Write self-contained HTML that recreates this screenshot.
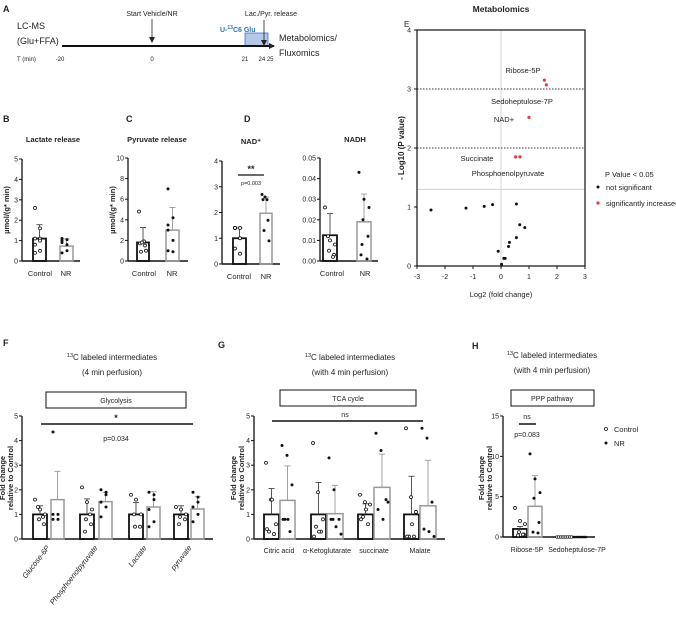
<!DOCTYPE html>
<html><head><meta charset="utf-8"><style>
body{margin:0;background:#fff}
svg{display:block;font-family:"Liberation Sans",Arial,sans-serif}
text{fill:#222}
</style></head><body>
<svg id="s" width="676" height="622" viewBox="0 0 676 622" xmlns="http://www.w3.org/2000/svg">
<defs><marker id="ah" markerUnits="userSpaceOnUse" markerWidth="6" markerHeight="6" refX="5" refY="3" orient="auto"><path d="M0,0 L6,3 L0,6 z" fill="#222"/></marker></defs>
<text x="3" y="12" font-size="9" font-weight="bold">A</text>
<text x="17" y="29" font-size="9">LC-MS</text>
<text x="17" y="44" font-size="9">(Glu+FFA)</text>
<rect x="245" y="33" width="23" height="13" fill="#b4c7e7" stroke="#4472c4" stroke-width="0.8"/>
<line x1="62" y1="46" x2="274" y2="46" stroke="#111" stroke-width="2" marker-end="url(#ah)"/>
<text x="152" y="16" font-size="7" text-anchor="middle" fill="#555">Start Vehicle/NR</text>
<line x1="152" y1="19" x2="152" y2="42" stroke="#222" stroke-width="0.8" marker-end="url(#ah)"/>
<text x="271" y="16" font-size="7" text-anchor="middle" fill="#555">Lac./Pyr. release</text>
<line x1="264" y1="20" x2="264" y2="45" stroke="#222" stroke-width="0.8" marker-end="url(#ah)"/>
<text x="220" y="32" font-size="7" font-weight="bold" style="fill:#2e75b6">U-<tspan font-size="5" dy="-3">13</tspan><tspan dy="3">C6 Glu</tspan></text>
<text x="279" y="41" font-size="9">Metabolomics/</text>
<text x="279" y="56" font-size="9">Fluxomics</text>
<g font-size="6">
<text x="17" y="61">T (min)</text><text x="60" y="61" text-anchor="middle">-20</text><text x="152" y="61" text-anchor="middle">0</text><text x="245" y="61" text-anchor="middle">21</text><text x="266" y="61" text-anchor="middle">24 25</text>
</g>
<g id="g"></g>
</svg>
<script>
const NS="http://www.w3.org/2000/svg",G=document.getElementById('g');
function el(t,a,txt){const e=document.createElementNS(NS,t);for(const k in a)e.setAttribute(k,a[k]);if(txt!==undefined)e.textContent=txt;G.appendChild(e);return e;}
function T(x,y,s,sz,o){o=o||{};el('text',Object.assign({x:x,y:y,'font-size':sz||7},o),s);}
function L(x1,y1,x2,y2,w,c,d){const a={x1,y1,x2,y2,stroke:c||'#111','stroke-width':w||1};if(d)a['stroke-dasharray']=d;el('line',a);}
function yaxis(x,y0,y1,ticks,labels,x2){L(x,y0,x,y1,1.3);L(x,y0,x2,y0,1.5);ticks.forEach((t,i)=>{const y=y0-(y0-y1)*i/(ticks.length-1);L(x-3,y,x,y,1);T(x-4,y+2.5,labels[i],7,{'text-anchor':'end'});});}
function bar(x,w,y0,sc,v,e,ctrl,dots){const top=y0-v*sc;el('rect',{x:x,y:top,width:w,height:v*sc,fill:'none',stroke:ctrl?'#111':'#999','stroke-width':ctrl?1.8:1.5});
 if(e){L(x+w/2,top,x+w/2,top-e*sc,0.9,ctrl?'#444':'#999');L(x+w/2-3,top-e*sc,x+w/2+3,top-e*sc,0.9,ctrl?'#444':'#999');}
 dots.forEach((d,i)=>{const cx=x+2+((i*5)%(w-3)),cy=y0-d*sc;if(ctrl)el('circle',{cx:cx,cy:cy,r:1.5,fill:'#fff',stroke:'#111','stroke-width':0.8});else el('circle',{cx:cx,cy:cy,r:1.5,fill:'#111'});});}
function ylab(x,y,s,sz){T(x,y,s,sz||7,{'text-anchor':'middle','font-weight':'bold',transform:`rotate(-90 ${x} ${y})`});}
T(3,122,'B',9,{'font-weight':'bold'});T(53,142,'Lactate release',7.5,{'text-anchor':'middle','font-weight':'bold'});
yaxis(22,261,159,[0,1,2,3,4,5],['0','1','2','3','4','5'],80);ylab(9,210,'µmol/(g* min)',7.5);
bar(33,13,261,20.4,1.1,0.68,true,[2.6,1.6,1.1,1.1,0.8,0.5,0.4,1.0]);bar(60,13,261,20.4,0.73,0.35,false,[1.1,1.05,0.9,0.5,0.4,0.8,1.0]);
T(40,276,'Control',7.5,{'text-anchor':'middle'});T(66,276,'NR',7.5,{'text-anchor':'middle'});
T(126,122,'C',9,{'font-weight':'bold'});T(157,142,'Pyruvate release',7.5,{'text-anchor':'middle','font-weight':'bold'});
yaxis(128,261,158,[0,2,4,6,8,10],['0','2','4','6','8','10'],188);ylab(115,210,'µmol/(g* min)',7.5);
bar(137,12,261,10.3,1.8,1.45,true,[4.8,1.9,1.7,1.5,0.9,1.0,1.8]);bar(166,13,261,10.3,3.0,2.2,false,[7.0,4.2,3.0,2.0,1.0,0.9,3.5]);
T(144,276,'Control',7.5,{'text-anchor':'middle'});T(172,276,'NR',7.5,{'text-anchor':'middle'});
T(244,122,'D',9,{'font-weight':'bold'});T(251,144,'NAD⁺',7.5,{'text-anchor':'middle','font-weight':'bold'});
yaxis(222,264,161,[0,1,2,3,4],['0','1','2','3','4'],280);
bar(233,13,264,25.75,1.0,0.4,true,[1.4,1.4,1.4,1.0,0.6,0.4,1.4,1.0]);bar(260,12,264,25.75,1.97,0.63,false,[2.7,2.5,2.5,1.7,1.3,0.9,2.6]);
L(238,175,264,175,1.3);T(251,172,'**',9,{'text-anchor':'middle','font-weight':'bold'});T(251,185,'p=0.003',5.5,{'text-anchor':'middle'});
T(239,279,'Control',7.5,{'text-anchor':'middle'});T(266,279,'NR',7.5,{'text-anchor':'middle'});
T(355,142,'NADH',7.5,{'text-anchor':'middle','font-weight':'bold'});
yaxis(320,261,158,[0,1,2,3,4,5],['0.00','0.01','0.02','0.03','0.04','0.05'],378);
bar(323,14,261,2060,0.0125,0.0105,true,[0.026,0.01,0.008,0.005,0.003,0.012,0.002]);bar(357,14,261,2060,0.019,0.0135,false,[0.043,0.03,0.026,0.02,0.012,0.008,0.001,0.003]);
T(332,276,'Control',7.5,{'text-anchor':'middle'});T(365,276,'NR',7.5,{'text-anchor':'middle'});
T(501,12,'Metabolomics',8.5,{'text-anchor':'middle','font-weight':'bold'});T(404,27,'E',8);
const ex=v=>501+v*28,ey=v=>266-v*59;
L(501,30,501,266,0.8,'#ccc');L(417,ey(1.3),585,ey(1.3),0.8,'#ccc');
L(417,ey(3),585,ey(3),0.9,'#333','1.5,1.5');L(417,ey(2),585,ey(2),0.9,'#333','1.5,1.5');
el('rect',{x:417,y:30,width:168,height:236,fill:'none',stroke:'#111','stroke-width':1.2});
[0,1,2,3,4].forEach(v=>{L(414,ey(v),417,ey(v),1);T(411,ey(v)+2.5,String(v),7,{'text-anchor':'end'});});
[-3,-2,-1,0,1,2,3].forEach(v=>{L(ex(v),266,ex(v),269,1);T(ex(v),279,String(v),7,{'text-anchor':'middle'});});
T(501,297,'Log2 (fold change)',7.5,{'text-anchor':'middle'});ylab(404,148,'- Log10 (P value)',8);
[[-2.5,.95],[-1.25,.98],[-.6,1.01],[-.3,1.04],[.55,1.05],[.67,.7],[.85,.65],[.55,.48],[.3,.4],[.27,.33],[-.1,.25],[.1,.13],[.15,.13],[.02,.03]].forEach(p=>el('circle',{cx:ex(p[0]),cy:ey(p[1]),r:1.5,fill:'#111'}));
[[1.55,3.15],[1.62,3.07],[1,2.52],[.52,1.85],[.68,1.85]].forEach(p=>el('circle',{cx:ex(p[0]),cy:ey(p[1]),r:1.6,fill:'#e8393b'}));
T(523,73,'Ribose-5P',7.5,{'text-anchor':'middle'});T(522,104,'Sedoheptulose-7P',7.5,{'text-anchor':'middle'});T(504,122,'NAD+',7.5,{'text-anchor':'middle'});
T(477,161,'Succinate',7.5,{'text-anchor':'middle'});T(508,176,'Phosphoenolpyruvate',7.5,{'text-anchor':'middle'});
T(605,177,'P Value < 0.05',7.5);el('circle',{cx:598,cy:187,r:1.5,fill:'#111'});T(606,190,'not significant',7.5);el('circle',{cx:598,cy:203,r:1.6,fill:'#e8393b'});T(606,206,'significantly increased',7.5);
T(3,346,'F',9,{'font-weight':'bold'});
function title13(x,y,l2){const t=el('text',{x:x,y:y,'font-size':8,'text-anchor':'middle'});t.innerHTML='<tspan font-size="5.5" dy="-3">13</tspan><tspan dy="3">C labeled intermediates</tspan>';T(x,y+15,l2,8,{'text-anchor':'middle'});}
title13(112,360,'(4 min perfusion)');
el('rect',{x:46,y:392,width:140,height:16,fill:'#fff',stroke:'#111','stroke-width':1});T(116,403,'Glycolysis',7,{'text-anchor':'middle'});
yaxis(22,539,416,[0,1,2,3,4,5],['0','1','2','3','4','5'],213);ylab(5,478,'Fold change',7.5);ylab(13,478,'relative to Control',7.5);
L(41,424,193,424,1.5);T(116,421,'*',9,{'text-anchor':'middle','font-weight':'bold'});T(116,441,'p=0.034',7,{'text-anchor':'middle'});
const sF=24.6;
bar(33,14,539,sF,1,0.35,true,[1.6,1.2,1.0,0.8,0.6,1.3,0.9]);bar(51,13,539,sF,1.6,1.15,false,[4.35,1.0,1.0,0.8,0.8]);
bar(80,14,539,sF,1,0.63,true,[2.1,1.5,1.2,0.8,0.6,0.3,1.0]);bar(99,13,539,sF,1.52,0.38,false,[2.0,1.8,1.5,1.3,0.9,1.9]);
bar(129,14,539,sF,1,0.48,true,[1.8,1.6,1.0,0.5,0.5,1.0]);bar(147,13,539,sF,1.3,0.62,false,[1.9,1.6,1.2,0.7,0.5,1.8]);
bar(174,14,539,sF,1,0.35,true,[1.3,1.2,1.0,0.9,0.8,0.6]);bar(191,13,539,sF,1.22,0.5,false,[1.9,1.5,1.3,1.0,0.7,1.7]);
[['Glucose-6P',50],['Phosphoenolpyruvate',98],['Lactate',147],['pyruvate',192]].forEach(a=>T(a[1],548,a[0],7.5,{'text-anchor':'end','font-style':'italic',transform:`rotate(-52 ${a[1]} 548)`}));
T(218,348,'G',9,{'font-weight':'bold'});title13(350,360,'(with 4 min perfusion)');
el('rect',{x:280,y:390,width:136,height:16,fill:'#fff',stroke:'#111','stroke-width':1});T(348,401,'TCA cycle',7,{'text-anchor':'middle'});
yaxis(254,539,416,[0,1,2,3,4,5],['0','1','2','3','4','5'],445);ylab(236,478,'Fold change',7.5);ylab(244,478,'relative to Control',7.5);
L(272,421,423,421,1.5);T(345,417,'ns',7,{'text-anchor':'middle'});
bar(264,15,539,sF,1,1.05,true,[3.1,1.6,0.6,0.3,0.2,0.4,1.6]);bar(280,15,539,sF,1.57,1.4,false,[3.8,3.4,2.2,0.8,0.3,0.8,0.8]);
bar(311,15,539,sF,1,1.3,true,[3.9,1.9,0.8,0.5,0.3,0.1,0.3]);bar(327,16,539,sF,1.03,1.15,false,[3.3,2.0,0.8,0.8,0.5,0.2,0.8]);
bar(358,15,539,sF,1,0.43,true,[1.8,1.5,1.4,0.9,0.6,0.8,1.2]);bar(374,16,539,sF,2.1,1.35,false,[4.3,3.6,1.6,1.2,0.8,1.5]);
bar(404,15,539,sF,1,1.55,true,[4.5,1.7,1.1,0.1,0.1,0.1,0.6]);bar(420,16,539,sF,1.35,1.85,false,[4.5,4.1,1.5,0.4,0.3,0.1]);
[['Citric acid',279],['α-Ketoglutarate',327],['succinate',374],['Malate',420]].forEach(a=>T(a[1],553,a[0],7,{'text-anchor':'middle'}));
T(472,349,'H',9,{'font-weight':'bold'});title13(552,358,'(with 4 min perfusion)');
el('rect',{x:511,y:390,width:83,height:16,fill:'#fff',stroke:'#111','stroke-width':1});T(552,401,'PPP pathway',7,{'text-anchor':'middle'});
yaxis(503,537,416,[0,1,2,3],['0','5','10','15'],595);ylab(484,478,'Fold change',7.5);ylab(492,478,'relative to Control',7.5);
L(519,424,536,424,1.5);T(527,419,'ns',7,{'text-anchor':'middle'});T(527,437,'p=0.083',7,{'text-anchor':'middle'});
bar(513,14,537,8.07,1,0.3,true,[3.6,2.0,1.6,0.6,0.3,0.2,0.3]);bar(528,14,537,8.07,3.8,3.8,false,[10.3,7.2,5.5,4.8,1.8,0.6,0.5]);
for(let i=0;i<9;i++){el('circle',{cx:557+i*1.8,cy:537,r:1.3,fill:'#fff',stroke:'#111','stroke-width':0.7});el('circle',{cx:573+i*1.6,cy:537,r:1.3,fill:'#111'});}
T(527,552,'Ribose-5P',7,{'text-anchor':'middle'});T(577,552,'Sedoheptulose-7P',7,{'text-anchor':'middle'});
el('circle',{cx:606,cy:429,r:1.5,fill:'#fff',stroke:'#111','stroke-width':0.8});T(614,432,'Control',7.5);
el('circle',{cx:606,cy:443,r:1.5,fill:'#111'});T(614,446,'NR',7.5);
</script>
</body></html>
